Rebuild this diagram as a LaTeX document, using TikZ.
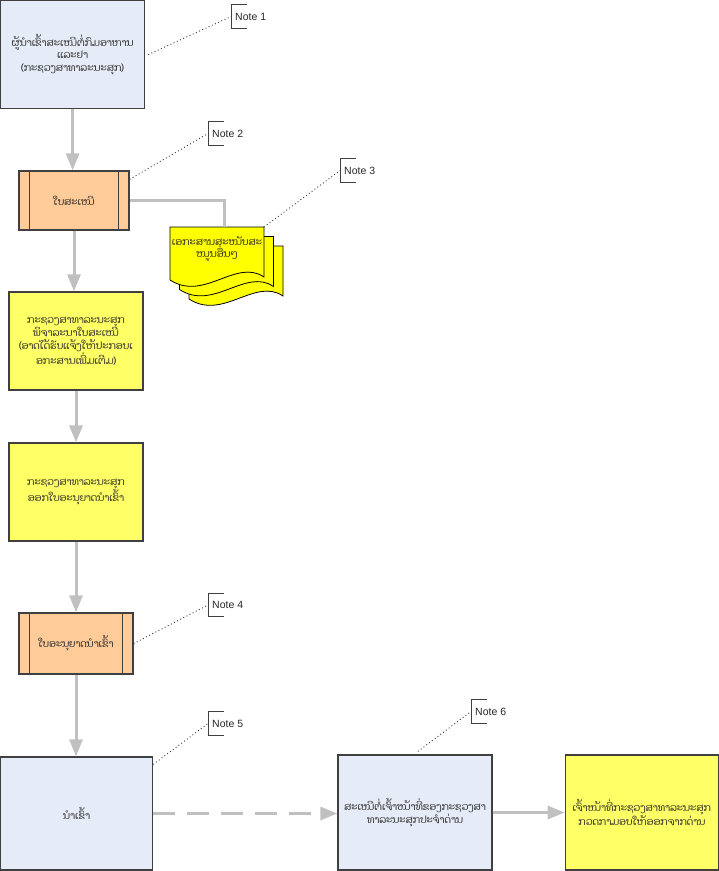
\documentclass[tikz,border=0pt]{standalone}
\usepackage{fontspec}
\setmainfont[Script=Lao]{Dhyana}
\newfontfamily\notefont{Liberation Sans}
\usetikzlibrary{positioning,arrows.meta}
\definecolor{paleblue}{RGB}{230,236,247}
\definecolor{peach}{RGB}{255,204,153}
\definecolor{lemon}{RGB}{255,255,102}
\definecolor{docyellow}{RGB}{255,255,0}
\definecolor{flowgray}{RGB}{192,192,192}
\definecolor{edgegray}{RGB}{64,64,64}

\begin{document}
\begin{tikzpicture}[x=1pt, y=-1pt,
    every node/.style={font=\fontsize{10}{12.5}\selectfont, text=black!85},
    box/.style={draw=edgegray, line width=1.3pt, align=center, inner sep=0pt},
    bluebox/.style={box, fill=paleblue},
    yellowbox/.style={box, fill=lemon},
    procbox/.style={box, fill=peach},
    flow/.style={draw=flowgray, line width=3pt, -{Triangle[width=13pt,length=17pt]}},
    link/.style={draw=flowgray, line width=3pt},
    note/.style={anchor=west, minimum height=23pt, inner xsep=4pt, font=\notefont\fontsize{10.5}{12}\selectfont},
    notelink/.style={draw=black!80, line width=0.9pt, dash pattern=on 0.9pt off 2.6pt},
    bracket/.style={draw=black!75, line width=1pt},
    sheet/.style={draw=black, line width=0.8pt, fill=docyellow}
    ]
    \useasboundingbox (0,0) rectangle (719,871);

    %% Main column
    \node[bluebox, minimum width=144pt, minimum height=108pt](req) at (72.6,54.6)
        {ຜູ້ນຳເຂົ້າສະເໜີຕໍ່ກົມອາຫານ\\ແລະຢາ\\(ກະຊວງສາທາລະນະສຸກ)};
    \node[procbox, minimum width=110pt, minimum height=59pt](form) at (74,200.5) {ໃບສະເໜີ};
    \node[yellowbox, minimum width=134pt, minimum height=98pt](review) at (76,341)
        {ກະຊວງສາທາລະນະສຸກ\\ພິຈາລະນາໃບສະເໜີ\\(ອາດໄດ້ຮັບແຈ້ງໃຫ້ປະກອບເ\\ອກະສານເພີ່ມເຕີມ)};
    \node[yellowbox, minimum width=134pt, minimum height=98pt](permit) at (76,492)
        {ກະຊວງສາທາລະນະສຸກ\\ອອກໃບອະນຸຍາດນຳເຂົ້າ};
    \node[procbox, minimum width=114pt, minimum height=61pt](licence) at (76,643.5) {ໃບອະນຸຍາດນຳເຂົ້າ};
    \node[bluebox, minimum width=152pt, minimum height=113pt](imp) at (76.6,813.5) {ນຳເຂົ້າ};

    %% Bottom row
    \node[bluebox, minimum width=154pt, minimum height=115pt](border) at (415,812.5)
        {ສະເໜີຕໍ່ເຈົ້າໜ້າທີ່ຂອງກະຊວງສາ\\ທາລະນະສຸກປະຈຳດ່ານ};
    \node[yellowbox, minimum width=153pt, minimum height=115pt](release) at (641.8,812.5)
        {ເຈົ້າໜ້າທີ່ກະຊວງສາທາລະນະສຸກ\\ກວດກາມອບໃຫ້ອອກຈາກດ່ານ};

    % side bars of the process boxes
    \foreach \p in {form,licence} {
        \draw[edgegray, line width=1.3pt] ([xshift=11pt]\p.north west) -- ([xshift=11pt]\p.south west);
        \draw[edgegray, line width=1.3pt] ([xshift=-11pt]\p.north east) -- ([xshift=-11pt]\p.south east);
    }

    %% Supporting documents (stack of three sheets)
    \foreach \d in {19,9.5,0}
        \draw[sheet, shift={(\d,\d)}] (170,227) -- (264,227) -- (264,277)
            .. controls (236,258) and (204,302) .. (170,280) -- cycle;
    \node[align=center](docs) at (217,249) {ເອກະສານສະໜັບສະ\\ໜູນອື່ນໆ};
    \coordinate (docstop) at (224,227);
    \coordinate (docscorner) at (264,227);

    %% Connectors
    \draw[flow] (req.south) -- (req.south |- form.north);
    \draw[link] (form.east) -| (docstop);
    \draw[flow] (form.south) -- (form.south |- review.north);
    \draw[flow] (review.south) -- (review.south |- permit.north);
    \draw[flow] (permit.south) -- (permit.south |- licence.north);
    \draw[flow] (licence.south) -- (licence.south |- imp.north);
    \draw[flow, dash pattern=on 22pt off 12pt] (imp.east) -- (imp.east -| border.west);
    \draw[flow] (border.east) -- (border.east -| release.west);

    %% Notes
    \node[note](n1) at (231,16.5) {Note 1};
    \node[note](n2) at (208,133.5) {Note 2};
    \node[note](n3) at (340,170.5) {Note 3};
    \node[note](n4) at (208,605) {Note 4};
    \node[note](n5) at (208,723.5) {Note 5};
    \node[note](n6) at (471,711.5) {Note 6};
    \foreach \n in {n1,n2,n3,n4,n5,n6}
        \draw[bracket] ([xshift=16pt]\n.north west) -- (\n.north west) -- (\n.south west) -- ([xshift=16pt]\n.south west);

    \draw[notelink] ([xshift=3pt]req.east) -- (n1.west);
    \draw[notelink] ([yshift=-9pt]form.north east) -- (n2.west);
    \draw[notelink] (docscorner) -- (n3.west);
    \draw[notelink] (licence.east) -- (n4.west);
    \draw[notelink] ([yshift=-8pt]imp.north east) -- (n5.west);
    \draw[notelink] ([xshift=3pt,yshift=3pt]border.north) -- (n6.west);
\end{tikzpicture}
\end{document}
